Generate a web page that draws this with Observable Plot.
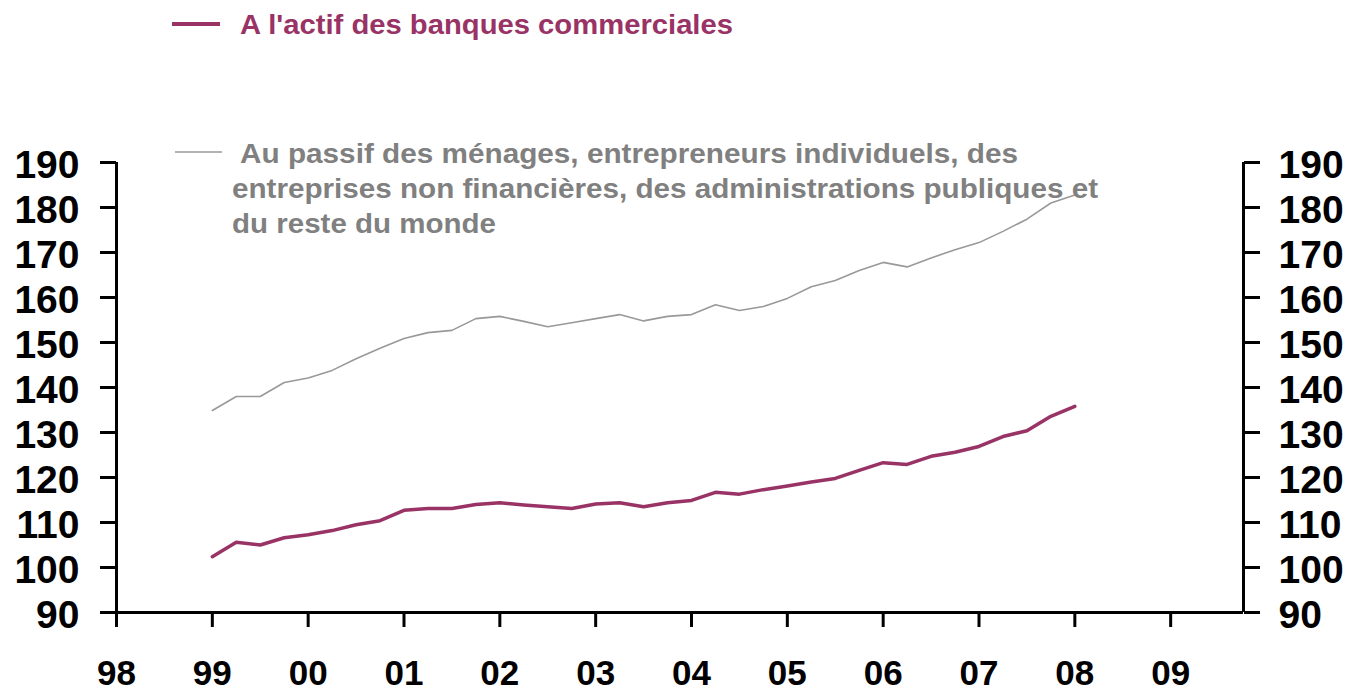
<!DOCTYPE html>
<html>
<head>
<meta charset="utf-8">
<script src="https://cdn.jsdelivr.net/npm/d3@7"></script>
<script src="https://cdn.jsdelivr.net/npm/@observablehq/plot@0.6"></script>
<style>
  html, body { margin: 0; padding: 0; background: #fff; }
  #wrap { position: relative; width: 1352px; height: 695px; overflow: hidden; font-family: "Liberation Sans", Arial, sans-serif; }
  #legend { position: absolute; left: 0; top: 0; pointer-events: none; }
</style>
</head>
<body>
<div id="wrap">
  <div id="chart"></div>
  <svg id="legend" width="1352" height="260" xmlns="http://www.w3.org/2000/svg">
    <line x1="172" y1="24" x2="220" y2="24" stroke="#993366" stroke-width="4"/>
    <text x="240" y="34" font-family="Liberation Sans, Arial, sans-serif" font-weight="bold" font-size="28" fill="#993366" textLength="493" lengthAdjust="spacingAndGlyphs">A l'actif des banques commerciales</text>
    <line x1="175" y1="152" x2="222" y2="152" stroke="#999999" stroke-width="1.5"/>
    <text font-family="Liberation Sans, Arial, sans-serif" font-weight="bold" font-size="27" fill="#808080">
      <tspan x="240" y="163" textLength="778" lengthAdjust="spacingAndGlyphs">Au passif des ménages, entrepreneurs individuels, des</tspan>
      <tspan x="232" y="198" textLength="866" lengthAdjust="spacingAndGlyphs">entreprises non financières, des administrations publiques et</tspan>
      <tspan x="232" y="233" textLength="264" lengthAdjust="spacingAndGlyphs">du reste du monde</tspan>
    </text>
  </svg>
</div>
<script>
// Quarterly dates (year fraction), Q1 1999 .. Q1 2008
const quarters = [
  1999, 1999.25, 1999.5, 1999.75,
  2000, 2000.25, 2000.5, 2000.75,
  2001, 2001.25, 2001.5, 2001.75,
  2002, 2002.25, 2002.5, 2002.75,
  2003, 2003.25, 2003.5, 2003.75,
  2004, 2004.25, 2004.5, 2004.75,
  2005, 2005.25, 2005.5, 2005.75,
  2006, 2006.25, 2006.5, 2006.75,
  2007, 2007.25, 2007.5, 2007.75,
  2008
];
// A l'actif des banques commerciales
const actifBanques = [
  102.4, 105.6, 105.0, 106.6,
  107.3, 108.2, 109.5, 110.4,
  112.7, 113.1, 113.1, 114.0,
  114.4, 113.9, 113.5, 113.1,
  114.1, 114.4, 113.5, 114.4,
  114.9, 116.7, 116.3, 117.3,
  118.1, 119.0, 119.8, 121.6,
  123.3, 122.9, 124.7, 125.6,
  126.9, 129.1, 130.4, 133.6,
  135.8
];
// Au passif des ménages, EI, SNF, APU et reste du monde
const passifAgents = [
  134.9, 138.0, 138.0, 141.1,
  142.1, 143.8, 146.4, 148.7,
  150.9, 152.2, 152.7, 155.3,
  155.8, 154.7, 153.5, 154.4,
  155.3, 156.2, 154.8, 155.8,
  156.2, 158.4, 157.1, 158.0,
  159.8, 162.4, 163.8, 166.0,
  167.8, 166.8, 168.8, 170.6,
  172.2, 174.7, 177.4, 181.0,
  182.8
];
const xTicks = [1998, 1999, 2000, 2001, 2002, 2003, 2004, 2005, 2006, 2007, 2008, 2009];
const yTicks = [90, 100, 110, 120, 130, 140, 150, 160, 170, 180, 190];
const xDomain = [1998, 2009.76];
const yDomain = [90, 190];

const dataA = quarters.map((q, i) => ({x: q, y: actifBanques[i]}));
const dataP = quarters.map((q, i) => ({x: q, y: passifAgents[i]}));

const yLabel = {fontSize: 39, fontWeight: "bold", fill: "#000", dy: 3, tickSize: 0, label: null};

const chart = Plot.plot({
  width: 1352,
  height: 695,
  marginLeft: 116,
  marginRight: 109,
  marginTop: 162,
  marginBottom: 83,
  style: {fontFamily: "Liberation Sans, Arial, sans-serif", color: "#000", background: "transparent", overflow: "visible"},
  x: {domain: xDomain},
  y: {domain: yDomain},
  marks: [
    // tick marks
    Plot.axisY({anchor: "left", ticks: yTicks, tickSize: 16, strokeWidth: 3, text: null, label: null}),
    Plot.axisY({anchor: "right", ticks: yTicks, tickSize: 16, strokeWidth: 3, text: null, label: null}),
    // tick labels
    Plot.axisY({anchor: "left", ticks: yTicks, tickPadding: 37, ...yLabel}),
    Plot.axisY({anchor: "right", ticks: yTicks, tickPadding: 35, ...yLabel}),
    Plot.axisX({anchor: "bottom", ticks: xTicks, tickSize: 15, tickPadding: 33, strokeWidth: 3, label: null,
      tickFormat: d => String(d % 100).padStart(2, "0"), fontSize: 35, fontWeight: "bold", fill: "#000"}),
    Plot.ruleX([xDomain[0]], {stroke: "#000", strokeWidth: 3}),
    Plot.ruleX([xDomain[1]], {stroke: "#000", strokeWidth: 3}),
    Plot.ruleY([yDomain[0]], {stroke: "#000", strokeWidth: 3}),
    Plot.line(dataP, {x: "x", y: "y", stroke: "#999999", strokeWidth: 1.6}),
    Plot.line(dataA, {x: "x", y: "y", stroke: "#993366", strokeWidth: 3.5})
  ]
});
document.getElementById("chart").appendChild(chart);
</script>
</body>
</html>
